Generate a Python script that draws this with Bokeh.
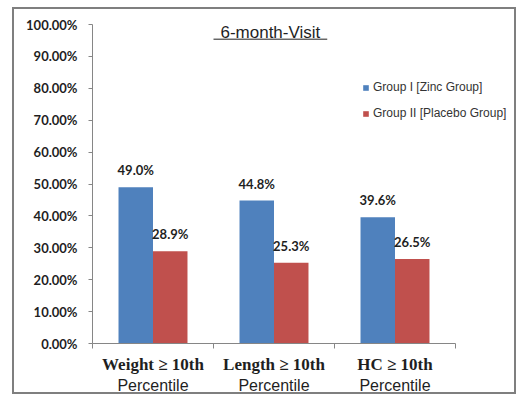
from bokeh.plotting import figure
from bokeh.models import (Range1d, LinearAxis, FixedTicker,
                          PrintfTickFormatter, ColumnDataSource, Label, Legend, LegendItem)
from bokeh.transform import dodge
from bokeh.core.properties import value
from bokeh.embed import file_html
from bokeh.resources import INLINE

# ---- data ----
cat_line1 = ["Weight \u2265 10th", "Length \u2265 10th", "HC \u2265 10th"]
cat_line2 = ["Percentile", "Percentile", "Percentile"]
series_names = ["Group I [Zinc Group]", "Group II [Placebo Group]"]
zinc = [49.0, 44.8, 39.6]
placebo = [28.9, 25.3, 26.5]
y_ticks = [0, 10, 20, 30, 40, 50, 60, 70, 80, 90, 100]
title_text = "6-month-Visit"

BLUE = "#4F81BD"
RED = "#C0504D"
AXIS = "#868686"
TXT = "#1f1f1f"

n = len(cat_line1)
centers = [i + 0.5 for i in range(n)]

src = ColumnDataSource(dict(
    x=centers,
    zinc=zinc,
    placebo=placebo,
    zinc_lbl=[f"{v:.1f}%" for v in zinc],
    placebo_lbl=[f"{v:.1f}%" for v in placebo],
))

CW, CH = 504, 387
ML, MB, MT = 78, 53, 15
frame_w = CW - ML
cat_px = 121.0

p = figure(x_range=Range1d(0, frame_w / cat_px), y_range=Range1d(0, 100),
           width=CW, height=CH, output_backend="svg", toolbar_location=None,
           x_axis_location=None, y_axis_location=None,
           min_border_left=ML, min_border_right=0, min_border_top=MT, min_border_bottom=MB)
p.xgrid.visible = False
p.ygrid.visible = False
p.outline_line_color = None
p.background_fill_color = "white"
p.border_fill_color = "white"
p.styles = {"border": "2px solid #7f7f7f", "margin-left": "12px", "margin-top": "7px"}

# y axis
yax = LinearAxis(ticker=FixedTicker(ticks=y_ticks),
                 formatter=PrintfTickFormatter(format="%.2f%%"))
yax.axis_line_color = AXIS
yax.major_tick_line_color = AXIS
yax.major_tick_out = 4
yax.major_tick_in = 0
yax.minor_tick_line_color = None
yax.major_label_standoff = 11
yax.major_label_text_font = "Lato"
yax.major_label_text_font_style = "bold"
yax.major_label_text_font_size = "13px"
yax.major_label_text_color = TXT
p.add_layout(yax, "left")

# x axis: line + separator ticks
xtick = LinearAxis(ticker=FixedTicker(ticks=list(range(n + 1))), bounds=(0, n))
xtick.axis_line_color = AXIS
xtick.major_tick_line_color = AXIS
xtick.major_tick_out = 5
xtick.major_tick_in = 0
xtick.minor_tick_line_color = None
xtick.major_label_overrides = {i: "" for i in range(n + 1)}
xtick.major_label_standoff = 0
p.add_layout(xtick, "below")

ax1 = LinearAxis(ticker=FixedTicker(ticks=centers))
ax1.axis_line_color = None
ax1.major_tick_line_color = None
ax1.minor_tick_line_color = None
ax1.major_tick_out = 0
ax1.major_label_standoff = 6
ax1.major_label_overrides = dict(zip(centers, cat_line1))
ax1.major_label_text_font = "Liberation Serif"
ax1.major_label_text_font_style = "bold"
ax1.major_label_text_font_size = "17px"
ax1.major_label_text_color = TXT
p.add_layout(ax1, "below")

ax2 = LinearAxis(ticker=FixedTicker(ticks=centers))
ax2.axis_line_color = None
ax2.major_tick_line_color = None
ax2.minor_tick_line_color = None
ax2.major_tick_out = 0
ax2.major_label_standoff = 0
ax2.major_label_overrides = dict(zip(centers, cat_line2))
ax2.major_label_text_font = "Liberation Sans"
ax2.major_label_text_font_size = "16px"
ax2.major_label_text_color = TXT
p.add_layout(ax2, "below")

# bars
W = 0.285
r1 = p.vbar(x=dodge("x", -W / 2), top="zinc", width=W, source=src,
            fill_color=BLUE, line_color=None)
r2 = p.vbar(x=dodge("x", W / 2), top="placebo", width=W, source=src,
            fill_color=RED, line_color=None)

lbl_kw = dict(text_align="center", text_baseline="middle", y_offset=-17,
              text_font=value("Lato"), text_font_style="bold", text_font_size="13px",
              text_color=TXT, source=src)
p.text(x=dodge("x", -W / 2), y="zinc", text="zinc_lbl", **lbl_kw)
p.text(x=dodge("x", W / 2), y="placebo", text="placebo_lbl", **lbl_kw)

# title with underline
p.add_layout(Label(x=1.47, y=97.5, text=title_text, text_align="center", text_baseline="middle",
                   text_font="Liberation Sans", text_font_size="17px", text_color=TXT))
p.segment(x0=[1.0], x1=[1.94], y0=[95.4], y1=[95.4], line_color=TXT, line_width=1)

# legend
legend = Legend(items=[LegendItem(label=series_names[0], renderers=[r1]),
                       LegendItem(label=series_names[1], renderers=[r2])],
                location=(270, 223), orientation="vertical",
                glyph_width=7, glyph_height=7, label_height=13, spacing=12,
                label_standoff=4, padding=0, margin=0,
                border_line_color=None, background_fill_alpha=0,
                label_text_font="Liberation Sans", label_text_font_size="12px",
                label_text_color="#333333")
p.add_layout(legend)

open("out.html", "w").write(file_html(p, INLINE))
